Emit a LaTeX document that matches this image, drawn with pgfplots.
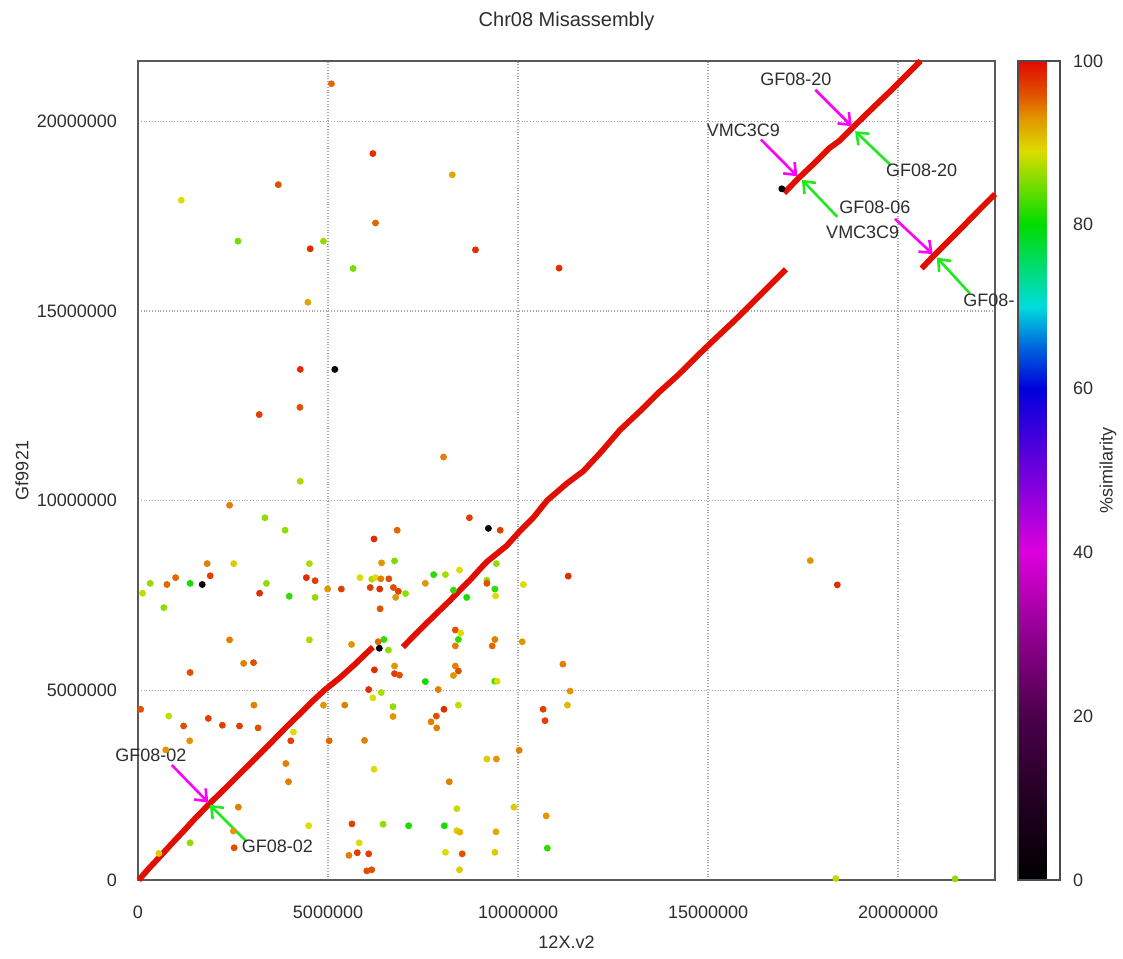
\documentclass[border=0pt]{standalone}
\usepackage{pgfplots}
\pgfplotsset{compat=1.18}
\usepackage{pgfplotstable}
\usepackage{fontspec}
\setmainfont{Liberation Sans}
\usetikzlibrary{arrows.meta}
\newcommand\fsn{\fontsize{9}{11}\selectfont}
\definecolor{linered}{RGB}{225,15,0}
\definecolor{amag}{RGB}{255,0,255}
\definecolor{agreen}{RGB}{30,235,30}
\definecolor{txt}{RGB}{45,45,45}

\pgfplotstableread{
x y c
5090000 20990000 95
6180000 19150000 98
3690000 18330000 96
1140000 17920000 89
6250000 17320000 95
2630000 16840000 85
4880000 16840000 86
4530000 16640000 98
5660000 16120000 85
4470000 15230000 92
8270000 18590000 92
8880000 16610000 98
11080000 16130000 98
4270000 13460000 98
5180000 13460000 2
4260000 12460000 96
3190000 12270000 97
4270000 10510000 87
2410000 9880000 94
3340000 9550000 86
3870000 9220000 86
6820000 9220000 95
8040000 11150000 94
8720000 9550000 97
9220000 9270000 2
9530000 9220000 97
6210000 8990000 98
1820000 8340000 94
2520000 8340000 90
4510000 8340000 87
6410000 8360000 93
6750000 8410000 85
990000 7970000 95
1900000 8020000 97
320000 7820000 86
760000 7790000 95
1370000 7820000 81
1690000 7790000 3
3380000 7820000 86
4430000 7970000 98
4660000 7890000 97
3200000 7560000 98
3980000 7480000 82
4660000 7450000 86
120000 7560000 88
680000 7180000 86
4990000 7670000 93
5350000 7670000 97
5840000 7970000 89
6150000 7930000 87
6250000 7970000 89
6390000 7940000 94
6600000 7940000 96
6110000 7710000 97
6360000 7670000 98
6720000 7710000 96
6850000 7610000 97
6780000 7450000 93
7040000 7550000 86
6370000 7150000 96
7560000 7820000 93
7780000 8050000 82
8090000 8050000 87
8460000 8170000 89
8300000 7640000 82
8650000 7450000 81
2410000 6330000 94
4510000 6330000 87
5620000 6210000 93
6320000 6280000 95
6470000 6340000 82
6350000 6110000 2
6590000 6060000 86
2780000 5710000 94
3040000 5730000 96
1370000 5470000 96
6220000 5540000 98
6750000 5640000 93
6750000 5440000 97
6880000 5400000 96
8350000 6590000 96
8490000 6510000 89
8430000 6340000 82
8350000 6170000 94
8350000 5640000 94
8430000 5510000 96
8300000 5390000 93
7560000 5230000 81
7900000 5020000 94
6070000 5020000 98
6180000 4800000 89
6400000 4940000 87
4880000 4610000 93
5440000 4610000 94
3050000 4610000 94
810000 4320000 88
1850000 4260000 97
70000 4500000 96
6710000 4570000 86
6710000 4310000 93
8050000 4500000 98
7850000 4320000 96
8430000 4610000 88
11320000 8010000 98
10140000 7790000 89
10110000 6280000 93
11180000 5690000 94
11370000 4980000 93
11300000 4610000 91
10660000 4500000 97
10710000 4200000 97
10030000 3420000 94
9180000 3190000 90
9430000 3190000 93
9890000 1920000 90
10740000 1690000 93
10770000 840000 82
9390000 730000 90
9420000 1270000 92
8460000 270000 90
8530000 690000 96
8390000 1300000 90
8470000 1260000 91
8390000 1880000 88
8090000 730000 89
8060000 1430000 81
7120000 1430000 81
6450000 1470000 86
6070000 690000 97
6020000 240000 96
6150000 270000 96
6210000 2920000 89
8190000 2590000 94
5960000 3680000 94
7710000 4170000 94
7860000 4010000 94
9390000 5240000 82
9450000 5240000 89
9390000 6340000 94
9320000 6170000 95
9180000 7900000 86
9180000 7820000 96
9390000 7670000 82
9410000 7490000 89
9430000 8340000 86
1200000 4060000 96
2220000 4080000 97
2670000 4060000 97
3160000 4010000 96
1360000 3670000 93
4090000 3900000 89
4020000 3670000 97
3890000 3070000 94
3960000 2590000 94
5030000 3670000 95
2640000 1920000 94
4490000 1430000 89
1370000 980000 86
2530000 850000 96
2510000 1290000 93
550000 700000 90
5630000 1480000 97
5820000 980000 89
5550000 650000 94
5770000 720000 97
730000 3430000 93
17690000 8420000 93
18400000 7780000 98
18360000 40000 88
21500000 30000 86
16940000 18220000 2
}\dots

\pgfplotstableread{
x y
20000 0
300000 320000
600000 640000
900000 970000
1200000 1290000
1500000 1620000
1900000 2030000
2300000 2420000
2700000 2820000
3100000 3220000
3500000 3620000
3900000 4030000
4300000 4420000
4600000 4720000
4900000 5000000
5300000 5320000
5700000 5680000
6000000 5970000
6180000 6140000
}\segA

\pgfplotstableread{
x y
6970000 6140000
7400000 6580000
7860000 7030000
8200000 7360000
8470000 7640000
8740000 7910000
9000000 8200000
9180000 8390000
9440000 8600000
9700000 8810000
10050000 9200000
10400000 9550000
10760000 10000000
11280000 10450000
11720000 10780000
12200000 11300000
12680000 11860000
13200000 12350000
13700000 12850000
14200000 13300000
14700000 13800000
15200000 14280000
15700000 14750000
16200000 15250000
16600000 15650000
17050000 16100000
}\segB

\pgfplotstableread{
x y
17000000 18110000
17380000 18500000
17800000 18900000
18200000 19300000
18450000 19480000
18820000 19850000
19300000 20320000
19800000 20800000
20200000 21200000
20590000 21590000
}\segC

\pgfplotstableread{
x y
20620000 16120000
20930000 16450000
21300000 16820000
21700000 17220000
22100000 17630000
22550000 18080000
}\segD

\begin{document}
\begin{tikzpicture}
\begin{axis}[
  scale only axis, width=428.5pt, height=409.5pt,
  at={(0pt,0pt)}, anchor=south west,
  xmin=0, xmax=22550000, ymin=0, ymax=21590000,
  clip=false,
  xtick={0,5000000,10000000,15000000,20000000},
  xticklabels={0,5000000,10000000,15000000,20000000},
  ytick={0,5000000,10000000,15000000,20000000},
  yticklabels={0,5000000,10000000,15000000,20000000},
  scaled ticks=false,
  tick style={draw=none},
  xticklabel style={font=\fsn, text=txt, anchor=center, yshift=-16pt},
  yticklabel style={font=\fsn, text=txt, anchor=east, xshift=-7pt},
  grid=major,
  major grid style={densely dotted, black!35, line width=0.7pt},
  axis line style={black!65, line width=1pt},
  title={Chr08 Misassembly},
  title style={font=\fontsize{10}{12}\selectfont, text=txt, at={(0.5,1)}, anchor=center, yshift=14pt},
  xlabel={12X.v2},
  xlabel style={font=\fsn, text=txt, at={(0.5,0)}, anchor=center, yshift=-31pt},
  ylabel={Gf9921},
  ylabel style={font=\fsn, text=txt, at={(0,0.5)}, anchor=center, yshift=58pt},
  colormap={sim}{rgb255(0pt)=(0,0,0); rgb255(10pt)=(35,0,35); rgb255(20pt)=(75,0,75); rgb255(30pt)=(145,0,145); rgb255(40pt)=(220,0,220); rgb255(50pt)=(110,0,220); rgb255(60pt)=(0,0,220); rgb255(65pt)=(0,100,220); rgb255(70pt)=(0,220,220); rgb255(75pt)=(0,220,110); rgb255(80pt)=(0,220,0); rgb255(85pt)=(120,220,0); rgb255(89pt)=(220,220,0); rgb255(93pt)=(225,150,0); rgb255(96pt)=(225,80,0); rgb255(100pt)=(225,10,0)},
  point meta min=0, point meta max=100,
  colorbar,
  colorbar style={
    at={(parent axis.north east)}, anchor=north west, xshift=3pt,
    scale only axis, width=21pt, height=409.5pt,
    ytick={0,20,40,60,80,100},
    yticklabels={0,20,40,60,80,100},
    yticklabel style={font=\fsn, text=txt, xshift=3pt},
    tick style={draw=none},
    axis line style={black!70, line width=0.6pt},
    ylabel={\%similarity},
    ylabel style={font=\fsn, text=txt, at={(1,0.5)}, anchor=center, yshift=-24pt},
  },
]
\addplot[linered, line width=2.9pt, line join=round, line cap=butt] table[x=x,y=y] {\segA};
\addplot[linered, line width=2.9pt, line join=round, line cap=butt] table[x=x,y=y] {\segB};
\addplot[linered, line width=2.9pt, line join=round, line cap=butt] table[x=x,y=y] {\segC};
\addplot[linered, line width=2.9pt, line join=round, line cap=butt] table[x=x,y=y] {\segD};
\addplot[scatter, only marks, mark=*, mark size=1.5pt, point meta=explicit,
  scatter/use mapped color={draw=mapped color, fill=mapped color}]
  table[x=x, y=y, meta=c] {\dots};

% annotations
\tikzset{ann/.style={line width=1.3pt, -{Straight Barb[length=5pt,width=8pt]}}}
\draw[ann, amag] (axis cs:890000,3030000) -- (axis cs:1850000,2040000);
\draw[ann, agreen] (axis cs:2860000,1010000) -- (axis cs:1890000,1980000);
\node[font=\fsn, text=txt] at (axis cs:340000,3290000) {GF08-02};
\node[font=\fsn, text=txt] at (axis cs:3670000,900000) {GF08-02};

\draw[ann, amag] (axis cs:17820000,20830000) -- (axis cs:18780000,19870000);
\draw[ann, agreen] (axis cs:19810000,18840000) -- (axis cs:18870000,19740000);
\node[font=\fsn, text=txt] at (axis cs:17310000,21120000) {GF08-20};
\node[font=\fsn, text=txt] at (axis cs:20620000,18710000) {GF08-20};

\draw[ann, amag] (axis cs:16390000,19520000) -- (axis cs:17350000,18550000);
\draw[ann, agreen] (axis cs:18400000,17480000) -- (axis cs:17470000,18460000);
\node[font=\fsn, text=txt] at (axis cs:15930000,19760000) {VMC3C9};
\node[font=\fsn, text=txt] at (axis cs:19070000,17080000) {VMC3C9};

\draw[ann, amag] (axis cs:19920000,17430000) -- (axis cs:20910000,16500000);
\draw[ann, agreen] (axis cs:21890000,15460000) -- (axis cs:21020000,16410000);
\node[font=\fsn, text=txt] at (axis cs:19390000,17740000) {GF08-06};
\node[font=\fsn, text=txt, anchor=west, inner sep=0pt] at (axis cs:21710000,15280000) {GF08-};
\end{axis}
\pgfresetboundingbox
\path (-69pt,-39pt) rectangle (492.5pt,440pt);
\end{tikzpicture}
\end{document}
